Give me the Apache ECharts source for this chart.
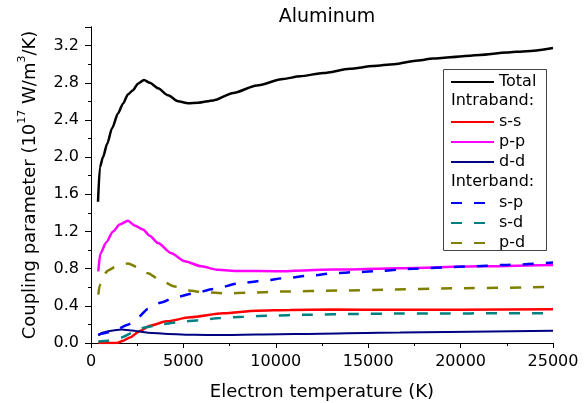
<!DOCTYPE html>
<html>
<head>
<meta charset="utf-8">
<script src="https://cdn.jsdelivr.net/npm/echarts@6/dist/echarts.min.js"></script>
<style>
  html, body { margin: 0; padding: 0; background: #fff; }
  #container { width: 588px; height: 403px; }
</style>
</head>
<body>
<div id="container"></div>
<script>
// [electron temperature (K), coupling parameter (1e17 W/m^3/K)]
const totalData = [[380,1.52],[480,1.89],[650,2.0],[870,2.14],[1140,2.31],[1460,2.47],[1730,2.575],[2000,2.675],[2270,2.72],[2540,2.79],[2870,2.83],[3180,2.80],[3630,2.74],[4170,2.665],[4710,2.60],[5250,2.58],[5800,2.585],[6620,2.61],[7700,2.69],[8970,2.77],[10400,2.84],[11310,2.87],[12570,2.905],[14010,2.95],[15280,2.98],[16400,3.0],[17700,3.04],[18500,3.06],[19430,3.075],[21050,3.10],[22490,3.125],[23570,3.14],[25000,3.175]];
const ssData = [[395,0.0],[1390,0.0],[1750,0.025],[2110,0.06],[2650,0.13],[3190,0.186],[4090,0.233],[5360,0.276],[7160,0.319],[8970,0.348],[10770,0.356],[13000,0.36],[16720,0.358],[20000,0.358],[25000,0.362]];
const ppData = [[395,0.77],[500,0.96],[830,1.085],[1190,1.20],[1550,1.275],[2000,1.315],[2360,1.265],[2815,1.22],[3175,1.155],[3625,1.075],[4345,0.966],[5070,0.88],[5970,0.825],[6870,0.787],[8000,0.775],[10000,0.772],[13110,0.79],[16720,0.805],[21000,0.825],[25000,0.84]];
const ddData = [[395,0.08],[650,0.114],[1100,0.133],[1640,0.145],[2180,0.135],[3080,0.111],[4170,0.097],[5610,0.088],[6870,0.086],[11000,0.097],[16720,0.114],[25000,0.133]];
const spData = [[395,0.09],[650,0.103],[1280,0.133],[2000,0.197],[2540,0.276],[3080,0.366],[3805,0.437],[4530,0.491],[5610,0.535],[6620,0.582],[8060,0.642],[9320,0.671],[10590,0.70],[11850,0.725],[13110,0.75],[14380,0.763],[15640,0.776],[17080,0.797],[20330,0.822],[22500,0.84],[25000,0.865]];
const sdData = [[395,0.017],[920,0.025],[1640,0.06],[2290,0.114],[2920,0.168],[3910,0.205],[5180,0.235],[5900,0.245],[6980,0.269],[8240,0.283],[9500,0.294],[11850,0.305],[14380,0.312],[16720,0.318],[25000,0.32]];
const pdData = [[395,0.52],[470,0.62],[650,0.725],[920,0.78],[1280,0.815],[2000,0.855],[2540,0.815],[3080,0.75],[3715,0.68],[4530,0.607],[5250,0.564],[6150,0.545],[7340,0.535],[8500,0.54],[10230,0.553],[13470,0.564],[16000,0.574],[19600,0.589],[25000,0.603]];

const FONT = 'DejaVu Sans';

let dom = document.getElementById('container');
let myChart = echarts.init(dom);

function line(name, data, color, dashed, width) {
  return {
    name: name,
    type: 'line',
    data: data,
    symbol: 'none',
    smooth: 0.25,
    smoothMonotone: 'x',
    lineStyle: {
      color: color,
      width: width || 2.5,
      type: dashed ? [11, 12] : 'solid'
    },
    itemStyle: { color: color },
    animation: false
  };
}

function legendBlock(top, names) {
  return {
    orient: 'vertical',
    left: 450,
    top: top,
    padding: 0,
    itemWidth: 43,
    itemHeight: 16,
    itemGap: 4,
    data: names,
    itemStyle: { color: 'rgba(0,0,0,0)', borderWidth: 0, opacity: 0 },
    textStyle: { fontFamily: FONT, fontSize: 16, color: '#000', lineHeight: 16 },
    selectedMode: false
  };
}

const axisCommon = {
  axisLine: { show: true, lineStyle: { color: '#000', width: 1 } },
  splitLine: { show: false },
  minorSplitLine: { show: false }
};

let option = {
  backgroundColor: '#fff',
  animation: false,
  title: {
    text: 'Aluminum',
    left: 322,
    textAlign: 'center',
    top: 3,
    textStyle: { fontFamily: FONT, fontSize: 19, fontWeight: 'normal', color: '#000' }
  },
  grid: { left: 91, right: 35, top: 27, bottom: 60, outerBoundsMode: 'none', containLabel: false },
  legend: [
    legendBlock(74, ['Total']),
    legendBlock(114, ['s-s', 'p-p', 'd-d']),
    legendBlock(195, ['s-p', 's-d', 'p-d'])
  ],
  xAxis: [
    Object.assign({}, axisCommon, {
      type: 'value',
      position: 'bottom',
      min: 0, max: 25000, interval: 5000,
      name: 'Electron temperature (K)',
      nameLocation: 'middle',
      nameGap: 40,
      nameTextStyle: { fontFamily: FONT, fontSize: 18, color: '#000' },
      axisTick: { show: true, inside: false, length: 5, lineStyle: { color: '#000' } },
      minorTick: { show: true, splitNumber: 2, length: 3, lineStyle: { color: '#000' } },
      axisLabel: {
        fontFamily: FONT, fontSize: 16, color: '#000', margin: 11,
        formatter: function (v) { return String(v); }
      }
    }),
    Object.assign({}, axisCommon, {
      type: 'value',
      position: 'top',
      min: 0, max: 25000, interval: 5000,
      axisTick: { show: true, inside: true, length: 5, lineStyle: { color: '#000' } },
      minorTick: { show: true, splitNumber: 2, length: 3, lineStyle: { color: '#000' } },
      axisLabel: { show: false }
    })
  ],
  yAxis: [
    Object.assign({}, axisCommon, {
      type: 'value',
      position: 'left',
      min: 0, max: 3.4, interval: 0.4,
      name: '{n|Coupling parameter (10}{s|17}{n| W/m}{s|3}{n|/K)}',
      nameLocation: 'middle',
      nameGap: 52,
      nameTextStyle: {
        fontFamily: FONT, fontSize: 18, color: '#000',
        rich: {
          n: { fontFamily: FONT, fontSize: 18, color: '#000', lineHeight: 24, verticalAlign: 'bottom' },
          s: { fontFamily: FONT, fontSize: 11, color: '#000', lineHeight: 24, verticalAlign: 'top', padding: [2, 0, 0, 0] }
        }
      },
      axisTick: { show: true, inside: false, length: 6, lineStyle: { color: '#000' } },
      minorTick: { show: true, splitNumber: 2, length: 3, lineStyle: { color: '#000' } },
      axisLabel: {
        fontFamily: FONT, fontSize: 16, color: '#000', margin: 12,
        showMaxLabel: false,
        formatter: function (v) { return v.toFixed(1); }
      }
    }),
    Object.assign({}, axisCommon, {
      type: 'value',
      position: 'right',
      min: 0, max: 3.4, interval: 0.4,
      axisTick: { show: true, inside: true, length: 5, lineStyle: { color: '#000' } },
      minorTick: { show: true, splitNumber: 2, length: 3, lineStyle: { color: '#000' } },
      axisLabel: { show: false }
    })
  ],
  graphic: {
    elements: [
      {
        type: 'rect',
        shape: { x: 443.5, y: 69.5, width: 103, height: 181 },
        style: { fill: 'rgba(255,255,255,0)', stroke: '#444', lineWidth: 1 },
        z: 100
      },
      {
        type: 'text',
        left: 451, top: 93,
        style: { text: 'Intraband:', font: '16px "DejaVu Sans"', fill: '#000' },
        z: 100
      },
      {
        type: 'text',
        left: 451, top: 174,
        style: { text: 'Interband:', font: '16px "DejaVu Sans"', fill: '#000' },
        z: 100
      }
    ]
  },
  series: [
    line('Total', totalData, '#000000', false, 2.5),
    line('s-s', ssData, '#ff0000', false, 2.5),
    line('p-p', ppData, '#ff00ff', false, 2.5),
    line('d-d', ddData, '#000080', false, 2),
    line('s-p', spData, '#0000ff', true, 2.5),
    line('s-d', sdData, '#008080', true, 2.5),
    line('p-d', pdData, '#808000', true, 2.5)
  ]
};

myChart.setOption(option);
</script>
</body>
</html>
